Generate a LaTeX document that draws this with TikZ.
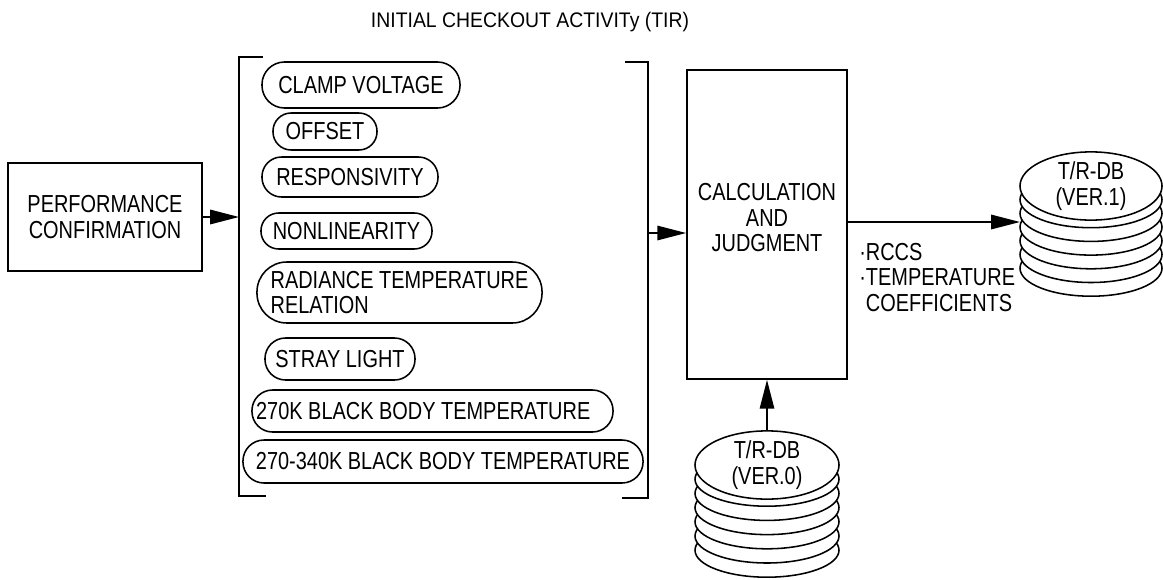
\documentclass[tikz,border=0pt]{standalone}
\usepackage{fontspec}
\setmainfont{Liberation Sans}[FakeStretch=0.81]
\newfontfamily\titlefont{Liberation Sans}[FakeStretch=0.92]
\usetikzlibrary{arrows.meta, positioning, shapes.geometric}

\begin{document}
\begin{tikzpicture}[
  x=0.025cm, y=-0.025cm,
  font=\fontsize{17.5}{18}\selectfont,
  box/.style={rectangle, draw, line width=1.2pt, inner sep=0pt, align=center},
  pill/.style 2 args={rectangle, draw, line width=1.1pt, inner sep=0pt, align=left,
    minimum width=#1, minimum height=#2, rounded corners=0.49*#2},
  disk/.style={draw, line width=1.1pt, fill=white},
  bracket/.style={line width=1.2pt},
  flow/.style={-{Triangle[length=0.72cm, width=0.36cm]}, line width=1.2pt}
]
\useasboundingbox (0,0) rectangle (1163,579);

\node[font=\titlefont\fontsize{15}{18}\selectfont] (title) at (530,22) {INITIAL CHECKOUT ACTIVITy (TIR)};

\node[box, minimum width=4.85cm, minimum height=2.7cm] (perf) at (105,217) {PERFORMANCE\\CONFIRMATION};

\coordinate (lbtop) at (239,57);
\coordinate (lbbot) at (239,496);
\draw[bracket] (263,57) -- (lbtop) -- (lbbot) -- (266,496);
\coordinate (rbtop) at (648,62);
\coordinate (rbbot) at (648,498);
\draw[bracket] (625,62) -- (rbtop) -- (rbbot) -- (622,498);

\node[pill={4.95cm}{1.15cm}] (clamp) at (361,85) {CLAMP VOLTAGE};
\node[pill={2.6cm}{0.925cm}] (offset) at (325,131.5) {OFFSET};
\node[pill={4.4cm}{1.0cm}] (resp) at (350,177) {RESPONSIVITY};
\node[pill={4.275cm}{0.9cm}] (nonlin) at (346.5,231) {NONLINEARITY};
\node[pill={7.125cm}{1.525cm}] (radiance) at (399.5,292.5) {RADIANCE TEMPERATURE\\RELATION};
\node[pill={3.75cm}{1.05cm}] (stray) at (340,359) {STRAY LIGHT};
\node[pill={9.025cm}{1.05cm}] (bb270) at (432.5,411) {270K BLACK BODY TEMPERATURE\hspace{12\pgflinewidth}};
\node[pill={10cm}{1.075cm}] (bb340) at (443,461.5) {270-340K BLACK BODY TEMPERATURE};

\node[box, minimum width=4cm, minimum height=7.725cm] (calc) at (767,224.5) {CALCULATION\\AND\\JUDGMENT\\[-8pt]\mbox{}};

\foreach \i in {6,...,1}
  \draw[disk] (1091,{186+\i*13.7}) ellipse [x radius=71, y radius=28];
\node[disk, ellipse, minimum width=3.55cm, minimum height=1.4cm, inner sep=0pt, align=center] (db1) at (1091,186) {T/R-DB\\(VER.1)};

\foreach \i in {6,...,1}
  \draw[disk] (767,{465+\i*14.2}) ellipse [x radius=72, y radius=27];
\node[disk, ellipse, minimum width=3.6cm, minimum height=1.35cm, inner sep=0pt, align=center] (db0) at (767,465) {T/R-DB\\(VER.0)\hspace{18\pgflinewidth}};

\node[anchor=north west, inner sep=0pt, align=left] (coef) at (859,243) {·RCCS\\·TEMPERATURE\\\phantom{·}COEFFICIENTS};

\coordinate (db1in) at (1020,222);
\coordinate (rbout) at (648,233);
\draw[flow] (perf.east) -- (perf.east -| lbtop);
\draw[flow] (rbout) -- (rbout -| calc.west);
\draw[flow] (calc.east |- db1in) -- (db1in);
\draw[flow] (db0.north) -- (calc.south);
\end{tikzpicture}
\end{document}
